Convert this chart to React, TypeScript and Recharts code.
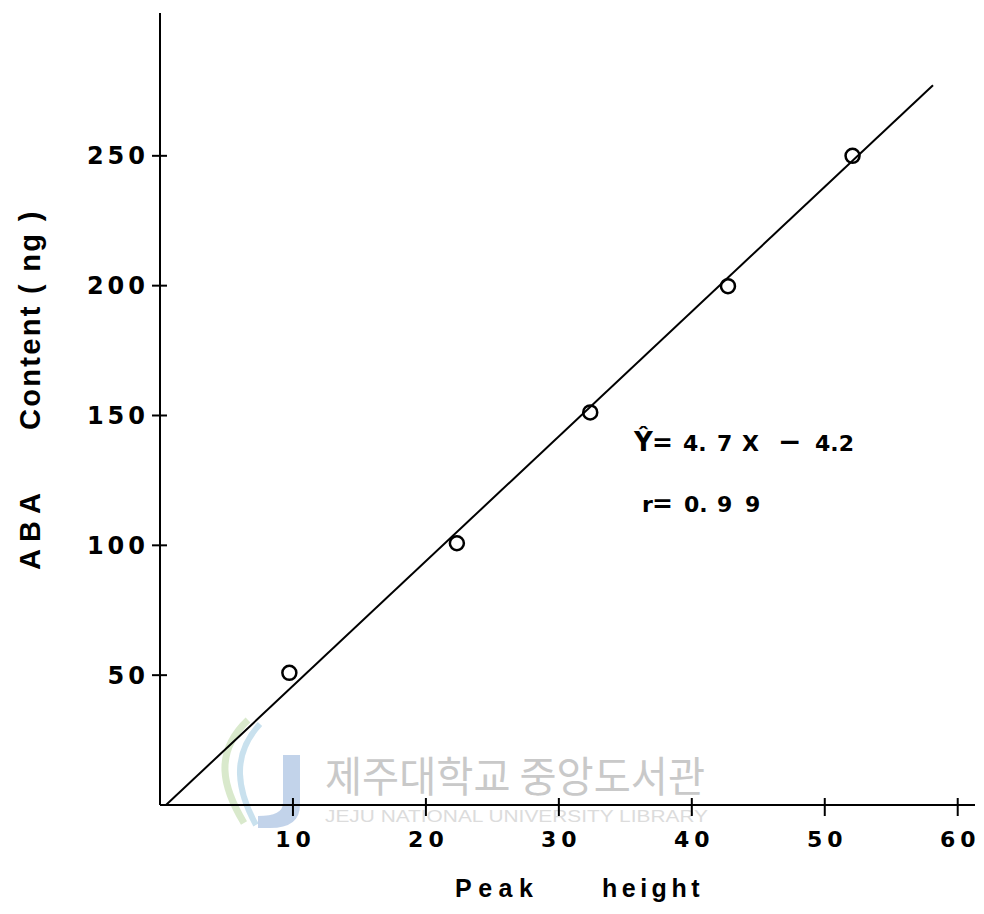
import React from 'react';
import { ScatterChart, Scatter, XAxis, YAxis } from 'recharts';

// Calibration points
const peakHeight = [9.73, 22.33, 32.36, 42.72, 52.09];
const abaContent = [50.9, 100.8, 151.2, 199.8, 250.0];

// Fitted regression line end points (as drawn)
const fitPeak = [0.45, 58.14];
const fitContent = [0, 277.2];

const xTicks = [10, 20, 30, 40, 50, 60];
const yTicks = [50, 100, 150, 200, 250];
const xDomain: [number, number] = [0, 61.3];
const yDomain: [number, number] = [0, 305];

const points = peakHeight.map((x, i) => ({ x, y: abaContent[i] }));
const fit = fitPeak.map((x, i) => ({ x, y: fitContent[i] }));

const TICK_FONT = "'DejaVu Sans', sans-serif";
const TITLE_FONT = "'Liberation Sans', Arial, sans-serif";

const XTick = (props: any) => {
  const { x, y, payload } = props;
  const ls = 5;
  return (
    <g>
      <line x1={x} x2={x} y1={y - 7} y2={y + 11} stroke="#000" strokeWidth={2} />
      <text
        x={x + ls / 2}
        y={y + 42}
        textAnchor="middle"
        fontFamily={TICK_FONT}
        fontWeight="bold"
        fontSize={22}
        letterSpacing={ls}
        fill="#000"
      >
        {payload.value}
      </text>
    </g>
  );
};

const YTick = (props: any) => {
  const { x, y, payload } = props;
  const ls = 4;
  return (
    <g>
      <line x1={x - 8} x2={x + 7} y1={y} y2={y} stroke="#000" strokeWidth={2} />
      <text
        x={x - 15 + ls}
        y={y + 8.5}
        textAnchor="end"
        fontFamily={TICK_FONT}
        fontWeight="bold"
        fontSize={24}
        letterSpacing={ls}
        fill="#000"
      >
        {payload.value}
      </text>
    </g>
  );
};

const OpenCircle = (props: any) => {
  const { cx, cy } = props;
  return <circle cx={cx} cy={cy} r={7} fill="none" stroke="#000" strokeWidth={2.5} />;
};

const NoShape = () => null;

export default function App() {
  return (
    <div style={{ width: 976, height: 898, background: '#fff' }}>
      <ScatterChart
        width={976}
        height={898}
        margin={{ top: 5, right: 9, bottom: 0, left: 0 }}
      >
        {/* library watermark */}
        <g>
          <path
            d="M 240 712 C 205 745, 215 780, 236 815"
            fill="none"
            stroke="#cfe3bf"
            strokeWidth={7}
            opacity={0.8}
          />
          <path
            d="M 252 716 C 222 748, 230 784, 248 817"
            fill="none"
            stroke="#bcd9ea"
            strokeWidth={6}
            opacity={0.8}
          />
          <path
            d="M 275 747 L 292 747 L 292 797 Q 292 820 262 820 L 250 820 L 250 808 Q 275 808 275 795 Z"
            fill="#b7cbe6"
            opacity={0.85}
          />
          <text
            x={317}
            y={784}
            fontFamily="'Noto Sans CJK KR', sans-serif"
            fontSize={42}
            textLength={380}
            lengthAdjust="spacingAndGlyphs"
            fill="#c9c9c9"
          >
            제주대학교 중앙도서관
          </text>
          <text
            x={317}
            y={814}
            fontFamily={TITLE_FONT}
            fontSize={16}
            textLength={383}
            lengthAdjust="spacingAndGlyphs"
            fill="#dcdcdc"
          >
            JEJU NATIONAL UNIVERSITY LIBRARY
          </text>
        </g>

        <XAxis
          type="number"
          dataKey="x"
          domain={xDomain}
          ticks={xTicks}
          allowDataOverflow
          height={101}
          tickSize={0}
          tickMargin={0}
          tickLine={false}
          tick={<XTick />}
          axisLine={{ stroke: '#000', strokeWidth: 2 }}
          interval={0}
        />
        <YAxis
          type="number"
          dataKey="y"
          domain={yDomain}
          ticks={yTicks}
          allowDataOverflow
          width={152}
          tickSize={0}
          tickMargin={0}
          tickLine={false}
          tick={<YTick />}
          axisLine={{ stroke: '#000', strokeWidth: 2 }}
          interval={0}
        />

        <Scatter
          data={fit}
          line={{ stroke: '#000', strokeWidth: 2 }}
          shape={<NoShape />}
          isAnimationActive={false}
        />
        <Scatter data={points} shape={<OpenCircle />} isAnimationActive={false} />

        {/* axis titles */}
        <text
          y={889}
          fontFamily={TITLE_FONT}
          fontWeight="bold"
          fontSize={25}
          fill="#000"
        >
          <tspan x={447} letterSpacing={6.5}>Peak</tspan>
          <tspan x={594} letterSpacing={4.5}>height</tspan>
        </text>
        <text
          x={32}
          y={562}
          transform="rotate(-90, 32, 562)"
          fontFamily={TITLE_FONT}
          fontWeight="bold"
          fontSize={29}
          fill="#000"
        >
          <tspan x={32} letterSpacing={7}>ABA</tspan>
          <tspan x={172} letterSpacing={2.3} style={{ whiteSpace: 'pre' }}>Content ( ng )</tspan>
        </text>

        {/* regression annotation */}
        <text y={442.7} fontFamily={TICK_FONT} fontWeight="bold" fontSize={22} fill="#000">
          <tspan x={626} fontSize={26}>Ŷ</tspan>
          <tspan x={644} fontSize={25}>=</tspan>
          <tspan x={675}>4.</tspan>
          <tspan x={709}>7</tspan>
          <tspan x={734}>X</tspan>
          <tspan x={770} fontSize={28}>−</tspan>
          <tspan x={807}>4.2</tspan>
        </text>
        <text y={503.7} fontFamily={TICK_FONT} fontWeight="bold" fontSize={22} fill="#000">
          <tspan x={634}>r</tspan>
          <tspan x={644} fontSize={25}>=</tspan>
          <tspan x={676}>0.</tspan>
          <tspan x={709}>9</tspan>
          <tspan x={737}>9</tspan>
        </text>
      </ScatterChart>
    </div>
  );
}
